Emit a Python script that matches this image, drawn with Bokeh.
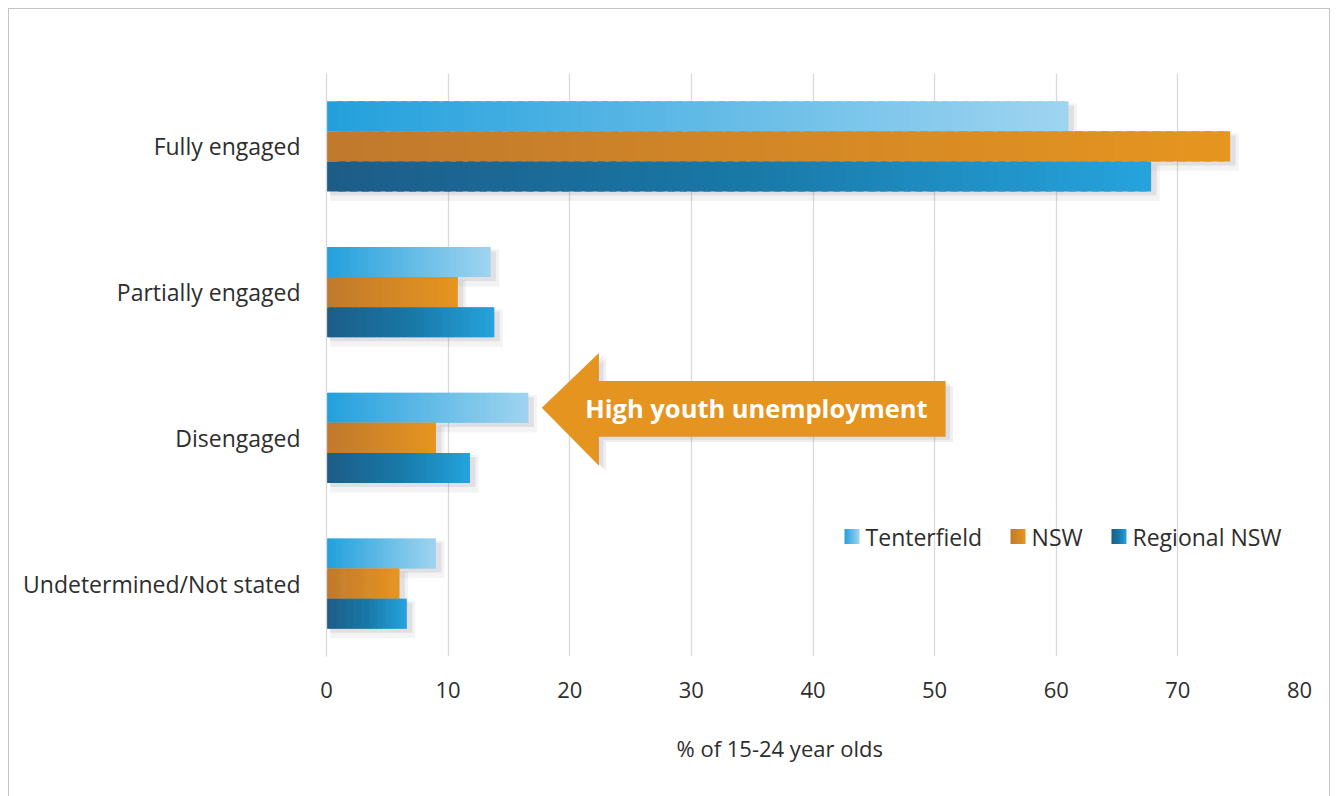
from bokeh.plotting import figure
from bokeh.models import ColumnDataSource, FixedTicker, InlineStyleSheet, Title
from bokeh.core.properties import value
from bokeh.embed import file_html
from bokeh.resources import INLINE

categories = ["Fully engaged", "Partially engaged", "Disengaged", "Undetermined/Not stated"]
series_names = ["Tenterfield", "NSW", "Regional NSW"]
tenterfield = [61.0, 13.5, 16.6, 9.0]
nsw = [74.3, 10.8, 9.0, 6.0]
regional = [67.8, 13.8, 11.8, 6.6]
x_ticks = [0, 10, 20, 30, 40, 50, 60, 70, 80]
x_title = "% of 15-24 year olds"
annotation_text = "High youth unemployment"

FONT = "Open Sans"
TEXT_COLOR = "#2e2e2e"

gradients = {
    "Tenterfield": [(0.0, "#22a0dc"), (1.0, "#9fd4f0")],
    "NSW": [(0.0, "#c0792d"), (1.0, "#e6951f")],
    "Regional NSW": [(0.0, "#1e5c88"), (0.5, "#1878a6"), (1.0, "#26a3dd")],
}


def hex2rgb(h):
    h = h.lstrip("#")
    return tuple(int(h[i:i + 2], 16) for i in (0, 2, 4))


def interp(stops, t):
    for (t0, c0), (t1, c1) in zip(stops[:-1], stops[1:]):
        if t <= t1:
            f = (t - t0) / (t1 - t0) if t1 > t0 else 0
            a, b = hex2rgb(c0), hex2rgb(c1)
            return "#%02x%02x%02x" % tuple(int(round(a[i] + (b[i] - a[i]) * f)) for i in range(3))
    return stops[-1][1]


n_cat = len(categories)
cat_pos = [n_cat - 1 - i for i in range(n_cat)]
bar_h = 0.206
offsets = {"Tenterfield": bar_h, "NSW": 0.0, "Regional NSW": -bar_h}
series_vals = {"Tenterfield": tenterfield, "NSW": nsw, "Regional NSW": regional}

frame_css = InlineStyleSheet(css="""
:host { position: relative; }
:host::after {
  content: ""; position: absolute; left: 8px; top: 8px; width: 1322px; height: 788px;
  box-sizing: border-box; border: 1.5px solid #c4c4c4; border-bottom: none;
  pointer-events: none; z-index: 100;
}
""")

p = figure(width=1338, height=796, x_range=(0, 80), y_range=(-0.5, 3.5),
           output_backend="svg", toolbar_location=None,
           min_border_left=326, min_border_right=39, min_border_top=73, min_border_bottom=140,
           stylesheets=[frame_css])
p.background_fill_color = "white"
p.border_fill_color = "white"
p.outline_line_color = None

# grid / axes
p.ygrid.grid_line_color = None
p.xgrid.grid_line_color = "#d9d9d9"
p.xgrid.grid_line_width = 1.3
p.xaxis.ticker = FixedTicker(ticks=x_ticks)
p.xaxis.axis_line_color = None
p.xaxis.major_tick_line_color = None
p.xaxis.minor_tick_line_color = None
p.xaxis.major_label_standoff = 19
p.xaxis.major_label_text_font = FONT
p.xaxis.major_label_text_font_size = "22px"
p.xaxis.major_label_text_color = TEXT_COLOR

# x-axis title (placed slightly left of centre, as in the source)
p.add_layout(Title(text=x_title, align="left", offset=350, standoff=60,
                   text_font=FONT, text_font_size="22px", text_font_style="normal",
                   text_color=TEXT_COLOR), "below")

p.yaxis.ticker = FixedTicker(ticks=cat_pos)
p.yaxis.major_label_overrides = {pos: c for pos, c in zip(cat_pos, categories)}
p.yaxis.axis_line_color = "#d9d9d9"
p.yaxis.axis_line_width = 1.3
p.yaxis.major_tick_line_color = None
p.yaxis.minor_tick_line_color = None
p.yaxis.major_label_standoff = 20
p.yaxis.major_label_text_font = FONT
p.yaxis.major_label_text_font_size = "23px"
p.yaxis.major_label_text_color = TEXT_COLOR

# soft shadows (two layers)
for dx, dy, grow, alpha in [(0.7, -0.04, 0.05, 0.09), (0.45, -0.028, 0.0, 0.15)]:
    sh = dict(y=[], left=[], right=[])
    for name in series_names:
        for pos, v in zip(cat_pos, series_vals[name]):
            sh["y"].append(pos + offsets[name] + dy)
            sh["left"].append(0.3)
            sh["right"].append(v + dx)
    p.hbar(y="y", left="left", right="right", height=bar_h + grow, source=ColumnDataSource(sh),
           fill_color="#7a7a8a", fill_alpha=alpha, line_color=None)

# gradient bars built from slices
N = 70
seg = dict(y=[], left=[], right=[], color=[])
for name in series_names:
    stops = gradients[name]
    for pos, v in zip(cat_pos, series_vals[name]):
        for k in range(N):
            seg["y"].append(pos + offsets[name])
            seg["left"].append(v * k / N)
            seg["right"].append(min(v, v * (k + 1.6) / N))
            seg["color"].append(interp(stops, (k + 0.5) / N))
p.hbar(y="y", left="left", right="right", height=bar_h, source=ColumnDataSource(seg),
       fill_color="color", line_color=None)

# annotation arrow pointing at Tenterfield / Disengaged
dis_i = categories.index("Disengaged")
tip_x = tenterfield[dis_i] + 1.1
tip_y = cat_pos[dis_i] + offsets["Tenterfield"]
head_len = 4.7
shaft_end = 50.9
head_up, head_dn = 0.377, 0.398
shaft_up, shaft_dn = 0.185, 0.199
ax = [tip_x, tip_x + head_len, tip_x + head_len, shaft_end, shaft_end, tip_x + head_len, tip_x + head_len]
ay = [tip_y, tip_y + head_up, tip_y + shaft_up, tip_y + shaft_up, tip_y - shaft_dn, tip_y - shaft_dn, tip_y - head_dn]
p.patch([x + 0.6 for x in ax], [y - 0.035 for y in ay], fill_color="#7a7a8a", fill_alpha=0.12, line_color=None)
p.patch([x + 0.35 for x in ax], [y - 0.02 for y in ay], fill_color="#7a7a8a", fill_alpha=0.15, line_color=None)
p.patch(ax, ay, fill_color="#e69420", line_color=None)
p.text(x=[(tip_x + head_len + shaft_end) / 2 - 1.3], y=[tip_y], text=[annotation_text],
       text_font=value(FONT), text_font_style="bold", text_font_size="25.5px",
       text_color="white", text_align="center", text_baseline="middle")

# legend (gradient swatches)
leg_y = 0.323
leg_x = [42.59, 56.24, 64.54]
sw_w, sw_h = 1.233, 0.103
M = 12
lg = dict(y=[], left=[], right=[], color=[])
for name, lx in zip(series_names, leg_x):
    for k in range(M):
        lg["y"].append(leg_y)
        lg["left"].append(lx + sw_w * k / M)
        lg["right"].append(min(lx + sw_w, lx + sw_w * (k + 1.6) / M))
        lg["color"].append(interp(gradients[name], (k + 0.5) / M))
p.hbar(y="y", left="left", right="right", height=sw_h, source=ColumnDataSource(lg),
       fill_color="color", line_color=None)
p.text(x=[lx + 1.73 for lx in leg_x], y=[leg_y] * 3, text=series_names,
       text_font=value(FONT), text_font_size="23px", text_color=TEXT_COLOR,
       text_align="left", text_baseline="middle")

open("out.html", "w").write(file_html(p, INLINE))
